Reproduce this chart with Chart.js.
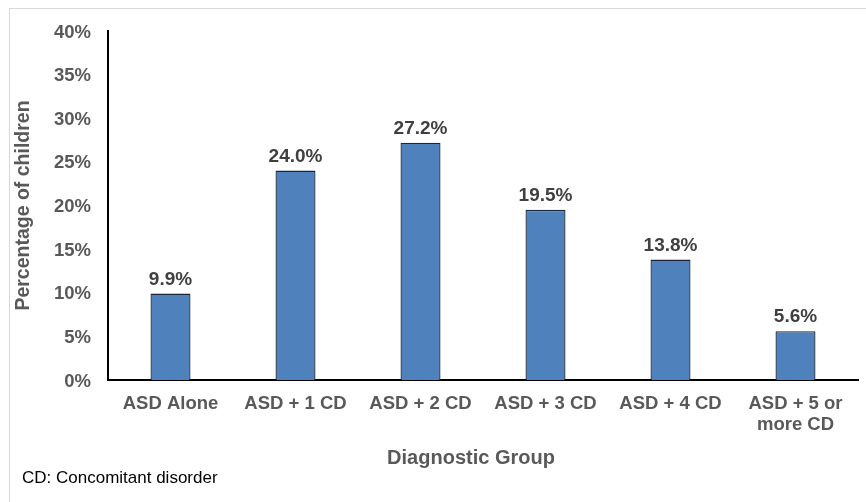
<!DOCTYPE html>
<html>
<head>
<meta charset="utf-8">
<script src="https://cdn.jsdelivr.net/npm/chart.js@4.4.1/dist/chart.umd.min.js"></script>
<style>
  html, body { margin: 0; padding: 0; background: #fff; }
  #wrap { position: relative; width: 866px; height: 502px; overflow: hidden; }
  #frame { position: absolute; left: 9px; top: 8px; width: 900px; height: 600px; border: 1px solid #d9d9d9; box-sizing: border-box; }
  #grafico { position: absolute; left: 0; top: 0; }
</style>
</head>
<body>
<div id="wrap">
  <div id="frame"></div>
  <canvas id="grafico" width="866" height="502"></canvas>
</div>
<script>
// datos del grafico
const categorias = ["ASD Alone", "ASD + 1 CD", "ASD + 2 CD", "ASD + 3 CD", "ASD + 4 CD", ["ASD + 5 or", "more CD"]];
const porcentajes = [9.9, 24.0, 27.2, 19.5, 13.8, 5.6];
const ticksY = [0, 5, 10, 15, 20, 25, 30, 35, 40];
const tituloX = "Diagnostic Group";
const tituloY = "Percentage of children";
const notaPie = "CD: Concomitant disorder";

const fuente = "'Liberation Sans', Arial, sans-serif";

// etiquetas encima de cada barra + titulo X + nota
const etiquetasPlugin = {
  id: "etiquetas",
  afterDatasetsDraw(chart) {
    const ctx = chart.ctx;
    const meta = chart.getDatasetMeta(0);
    ctx.save();
    ctx.font = "bold 19px " + fuente;
    ctx.fillStyle = "#404040";
    ctx.textAlign = "center";
    ctx.textBaseline = "alphabetic";
    meta.data.forEach((bar, i) => {
      ctx.fillText(porcentajes[i].toFixed(1) + "%", bar.x, bar.y - 9);
    });
    ctx.restore();
  },
  afterDraw(chart) {
    const ctx = chart.ctx;
    ctx.save();
    ctx.textBaseline = "middle";
    ctx.font = "bold 20px " + fuente;
    ctx.fillStyle = "#595959";
    ctx.textAlign = "center";
    ctx.fillText(tituloX, 471, 458);
    ctx.font = "17px " + fuente;
    ctx.fillStyle = "#000";
    ctx.textAlign = "left";
    ctx.fillText(notaPie, 22, 478);
    ctx.restore();
  }
};

new Chart(document.getElementById("grafico"), {
  type: "bar",
  data: {
    labels: categorias,
    datasets: [{
      label: "Percentage",
      data: porcentajes,
      backgroundColor: "#4f81bd",
      borderColor: "#1a2638",
      borderWidth: 1.3,
      barPercentage: 0.32,
      categoryPercentage: 1
    }]
  },
  options: {
    responsive: false,
    animation: false,
    layout: { padding: { left: 0, top: 31, right: 8, bottom: 0 } },
    plugins: {
      legend: { display: false },
      tooltip: { enabled: false }
    },
    scales: {
      x: {
        grid: { display: false, drawTicks: false },
        border: { display: true, color: "#000", width: 2 },
        ticks: {
          color: "#595959",
          padding: 14,
          maxRotation: 0,
          font: { family: fuente, size: 18.5, weight: "bold", lineHeight: 1.12 }
        },
        afterFit(scale) { scale.height = 122; }
      },
      y: {
        min: 0,
        max: 40,
        grid: { display: false, drawTicks: false },
        border: { display: true, color: "#000", width: 2 },
        afterBuildTicks(scale) { scale.ticks = ticksY.map(v => ({ value: v })); },
        ticks: {
          color: "#595959",
          padding: 17,
          labelOffset: 1.5,
          font: { family: fuente, size: 18.5, weight: "bold" },
          callback: v => v + "%"
        },
        title: {
          display: true,
          text: tituloY,
          color: "#595959",
          padding: { top: 12, bottom: 0 },
          font: { family: fuente, size: 19.5, weight: "bold", lineHeight: 1.2 }
        },
        afterFit(scale) { scale.width = 108; }
      }
    }
  },
  plugins: [etiquetasPlugin]
});
</script>
</body>
</html>
